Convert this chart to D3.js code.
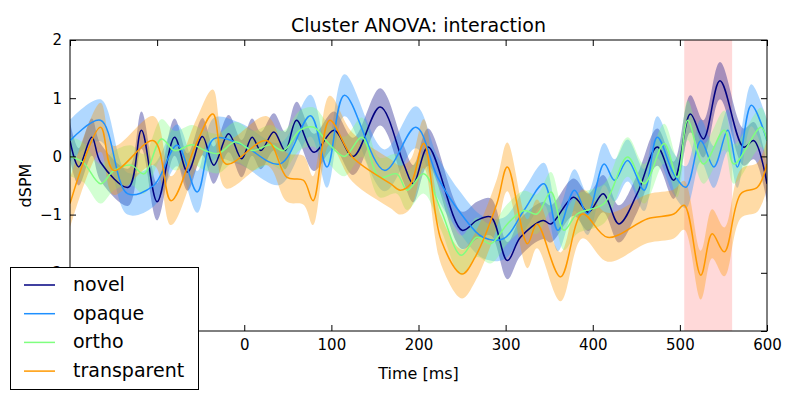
<!DOCTYPE html>
<html><head><meta charset="utf-8">
<script src="https://cdn.jsdelivr.net/npm/d3@7"></script>
<style>body{margin:0;background:#fff}svg{font-family:"DejaVu Sans",sans-serif}</style>
</head><body><svg id="c" width="800" height="400"></svg>
<script>
// values (time in ms, dSPM)
var novelT = [-200,-190,-175,-165,-133,-118,-100,-80,-65,-48,-35,-18,-3,9,19,34,47,60,80,103,125,156,183,194,211,250,267,283,302,317,343,352,378,395,412,430,451,474,493,512,527,546,573,585,600];
var novelV = [0.27,-0.18,0.33,-0.1,-0.53,0.45,-0.78,0.33,-0.27,0.34,-0.15,0.39,-0.04,0.33,0.1,0.42,0.1,0.62,0.07,0.45,0,0.85,-0.13,-0.47,0.16,-1.27,-1.1,-1.04,-1.79,-1.39,-1.1,-1.16,-0.7,-0.96,-0.64,-1.16,-0.64,0.16,-0.41,0.73,0.3,1.3,0.16,0.27,-0.47];
var opaqueT = [-200,-165,-134,-104,-77,-54,-35,-5,41,76,95,115,161,197,222,249,274,298,321,344,360,379,394,413,425,440,459,474,493,507,524,539,555,566,582,600];
var opaqueV = [0.27,0.62,-0.64,-0.5,0.19,-0.61,0.3,0.22,-0.13,0.7,-0.18,1.05,-0.24,0.5,-0.36,-0.99,-1.39,-1.41,-0.93,-0.47,-1.27,-0.58,-0.99,-0.13,-0.41,-0.07,-0.58,0.33,-0.3,-0.53,0.27,-0.18,0.45,-0.18,0.88,0.27];
var orthoT = [-200,-185,-165,-150,-130,-115,-95,-80,-60,-45,-30,-10,10,30,45,64,80,95,115,135,155,175,187,206,226,249,267,283,302,321,336,352,367,382,413,440,459,482,497,509,527,551,562,593,600];
var orthoV = [0,-0.1,-0.47,-0.25,-0.15,-0.3,0.3,0.1,0.2,0.1,0.05,0.25,0.1,0.2,0.1,0.45,0.5,0.25,0,0.33,-0.36,-0.3,-0.58,-0.3,-0.93,-1.7,-1.39,-1.5,-1.16,-0.93,-0.99,-0.61,-1.27,-0.99,-0.81,-0.01,-0.47,0.22,-0.36,0.62,-0.13,0.45,-0.13,0.5,0.27];
var transT = [-200,-165,-150,-104,-84,-55,-36,-21,26,49,68,79,98,124,168,179,191,206,226,250,265,290,302,325,336,363,388,417,463,493,505,524,537,551,570,589,600];
var transV = [-0.81,0.5,-0.24,0.27,-0.76,0.22,0.73,-0.13,0.27,-0.36,-0.41,-0.76,0.62,-0.01,-0.47,-0.58,-0.47,0.22,-1.44,-2.02,-1.73,-0.81,-0.18,-1.5,-1.16,-2.07,-0.99,-1.39,-1.07,-0.99,-0.84,-2.04,-1.33,-1.64,-0.64,-0.53,-0.13];
var names = ["novel","opaque","ortho","transparent"];
var colors = ["#000080","#1e90ff","#7fff7f","#ff9900"];
var sems = [0.32,0.36,0.34,0.42];
var xTicks = [-200,-100,0,100,200,300,400,500,600];
var yTicks = [-3,-2,-1,0,1,2];
var hiddenX = [-200,-100], hiddenY = [-3];   // labels the legend covers
var cluster = [505,560];

var series = [[novelT,novelV],[opaqueT,opaqueV],[orthoT,orthoV],[transT,transV]].map(function(s,i){
  return {name:names[i], color:colors[i], sem:sems[i], pts:s[0].map(function(t,j){return [t,s[1][j]];})};
});

var svg = d3.select("#c");
var L=70,R=767,T=40,B=331;
var x = d3.scaleLinear().domain([-200,600]).range([L,R]);
var y = d3.scaleLinear().domain([-3,2]).range([B,T]);
var g = svg.append("g");
g.append("defs").append("clipPath").attr("id","cp").append("rect").attr("x",L).attr("y",T).attr("width",R-L).attr("height",B-T);

var plot = g.append("g").attr("clip-path","url(#cp)");
plot.append("rect").attr("x",x(cluster[0])).attr("y",T).attr("width",x(cluster[1])-x(cluster[0])).attr("height",B-T)
  .attr("fill","#ff0000").attr("opacity",0.15);

var area = d3.area().curve(d3.curveCatmullRom).x(function(d){return x(d[0]);});
var line = d3.line().curve(d3.curveCatmullRom).x(function(d){return x(d[0]);}).y(function(d){return y(d[1]);});
series.forEach(function(s){
  area.y0(function(d){return y(d[1]-s.sem);}).y1(function(d){return y(d[1]+s.sem);});
  plot.append("path").attr("d",area(s.pts)).attr("fill",s.color).attr("opacity",0.35);
});
series.forEach(function(s){
  plot.append("path").attr("d",line(s.pts)).attr("fill","none").attr("stroke",s.color).attr("stroke-width",1.5);
});

// frame and inward ticks
g.append("rect").attr("x",L).attr("y",T).attr("width",R-L).attr("height",B-T).attr("fill","none").attr("stroke","#000");
var ax = [
  d3.axisBottom(x).tickValues(xTicks).tickSizeInner(-6).tickSizeOuter(0).tickPadding(8),
  d3.axisTop(x).tickValues(xTicks).tickSizeInner(-6).tickSizeOuter(0).tickFormat(""),
  d3.axisLeft(y).tickValues(yTicks).tickSizeInner(-6).tickSizeOuter(0).tickPadding(8),
  d3.axisRight(y).tickValues(yTicks).tickSizeInner(-6).tickSizeOuter(0).tickFormat("")
];
var tr = ["translate(0,"+B+")","translate(0,"+T+")","translate("+L+",0)","translate("+R+",0)"];
ax.forEach(function(a,i){
  var e = g.append("g").attr("transform",tr[i]).call(a);
  e.select(".domain").remove();
  e.selectAll("text").attr("font-size",15).attr("font-family","DejaVu Sans").attr("fill","#000").text(function(d){
    if (i%2) return "";
    if ((i==0 && hiddenX.indexOf(d)>=0) || (i==2 && hiddenY.indexOf(d)>=0)) return "";
    return String(d).replace("-","\u2212");
  });
});

svg.append("text").attr("x",(L+R)/2).attr("y",32).attr("text-anchor","middle").attr("font-size",19).text("Cluster ANOVA: interaction");
svg.append("text").attr("x",(L+R)/2).attr("y",379).attr("text-anchor","middle").attr("font-size",16).text("Time [ms]");
svg.append("text").attr("transform","translate(31,"+((T+B)/2)+") rotate(-90)").attr("text-anchor","middle").attr("font-size",16).text("dSPM");

var lg = svg.append("g");
lg.append("rect").attr("x",10.5).attr("y",267.5).attr("width",188).attr("height",122).attr("fill","#fff").attr("stroke","#000");
series.forEach(function(s,i){
  var yy = 285+i*28.7;
  lg.append("line").attr("x1",24).attr("x2",55).attr("y1",yy).attr("y2",yy).attr("stroke",s.color).attr("stroke-width",1.5);
  lg.append("text").attr("x",73).attr("y",yy+6).attr("font-size",19).text(s.name);
});
</script></body></html>
